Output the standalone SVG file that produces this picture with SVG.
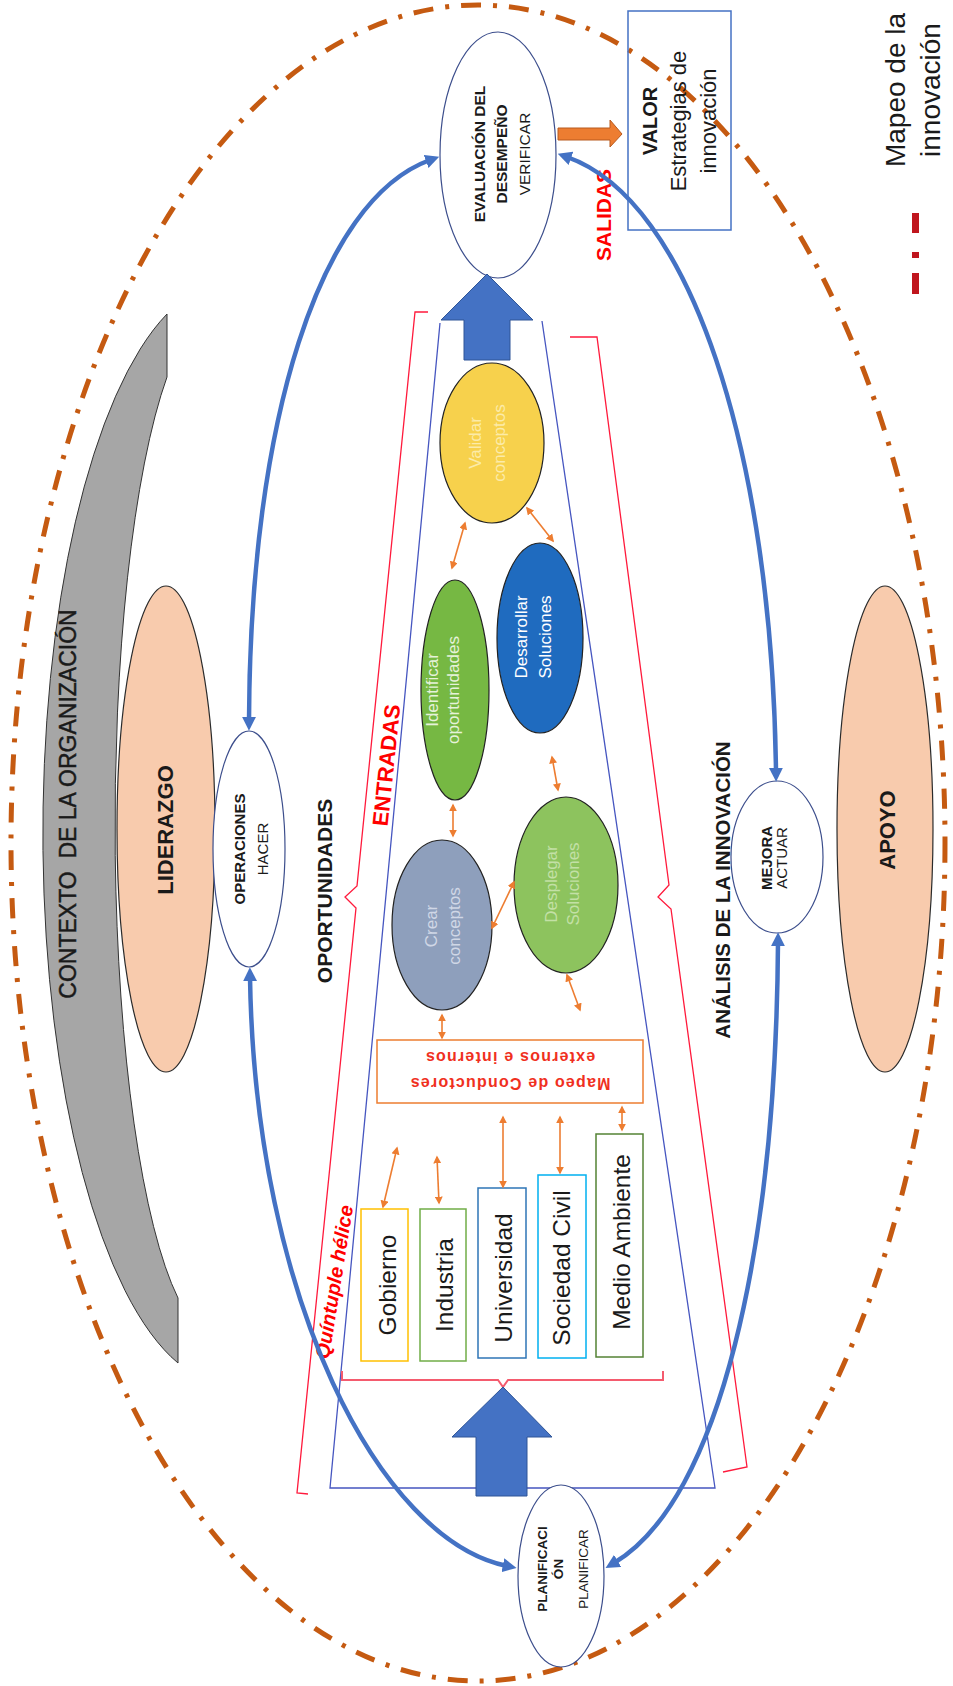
<svg xmlns="http://www.w3.org/2000/svg" width="953" height="1686" viewBox="0 0 953 1686">
<defs>
<style>
text{font-family:"Liberation Sans",Arial,sans-serif;fill:#1a1a1a}
.b{font-weight:bold}
.c{text-anchor:middle}
.node{fill:#fff;stroke:#3C4E8C;stroke-width:1.2}
.peach{fill:#F8CBAD;stroke:#2b2b2b;stroke-width:1.2}
.inner{stroke:#222;stroke-width:1.2}
.blue{fill:none;stroke:#4472C4;stroke-width:4.5;marker-start:url(#ab);marker-end:url(#ab)}
.or{fill:none;stroke:#ED7D31;stroke-width:1.6;marker-start:url(#ao);marker-end:url(#ao)}
.red{fill:none;stroke:#FF1A3C;stroke-width:1.3}
.box{fill:#fff;stroke-width:1.5}
.bt{font-size:24.5px}
.it{font-size:17px}
</style>
<marker id="ab" viewBox="0 0 10 10" refX="3" refY="5" markerWidth="14" markerHeight="14" markerUnits="userSpaceOnUse" orient="auto-start-reverse">
<path d="M0,0 L10,5 L0,10 z" fill="#4472C4"/>
</marker>
<marker id="ao" viewBox="0 0 10 10" refX="8" refY="5" markerWidth="8" markerHeight="8" markerUnits="userSpaceOnUse" orient="auto-start-reverse">
<path d="M0,0 L10,5 L0,10 z" fill="#ED7D31"/>
</marker>
</defs>
<rect width="953" height="1686" fill="#fff"/>

<g id="contexto">
<path d="M167,314 A185,550 0 0 0 178,1363 L178,1298 A100,510 0 0 1 167,377 Z" fill="#A6A6A6" stroke="#333" stroke-width="1"/>
<g transform="translate(76,804) rotate(-90)"><text class="c" y="0" font-size="23" stroke="#1a1a1a" stroke-width="0.45" xml:space="preserve">CONTEXTO  DE LA ORGANIZACIÓN</text></g>
</g>

<g id="liderazgo">
<ellipse class="peach" cx="166" cy="829" rx="49" ry="243"/>
<g transform="translate(166,830) rotate(-90)"><text class="c b" y="7" font-size="22">LIDERAZGO</text></g>
</g>

<g id="apoyo">
<ellipse class="peach" cx="885" cy="829" rx="48" ry="243"/>
<g transform="translate(885,830) rotate(-90)"><text class="c b" y="10" font-size="22">APOYO</text></g>
</g>

<g id="trapecio">
<polyline points="440,323 330,1488 715,1488 542,321" fill="none" stroke="#4656C0" stroke-width="1.3"/>
</g>

<g id="llaves">
<polyline class="red" points="428,312 415,312 357,886 345,897 356,908 297,1493 308,1494"/>
<polyline class="red" points="570,337 597,337 669,885 658,897 671,909 747,1467 723,1472"/>
<polyline points="342,1371 342,1380 498,1380 503,1387 508,1380 663,1380 663,1371" fill="none" stroke="#F45B6E" stroke-width="2"/>
</g>

<g id="outer">
<ellipse cx="478" cy="843" rx="467" ry="838" fill="none" stroke="#C55A11" stroke-width="5" stroke-dasharray="20 12 4 12"/>
</g>

<g id="labels">
<g transform="translate(332,891) rotate(-90)"><text class="c b" y="0" font-size="21">OPORTUNIDADES</text></g>
<g transform="translate(730,890) rotate(-90)"><text class="c b" y="0" font-size="20.5">ANÁLISIS DE LA INNOVACIÓN</text></g>
<g transform="translate(394,766) rotate(-84)"><text class="c b" y="0" font-size="22" style="fill:#FF0000">ENTRADAS</text></g>
<g transform="translate(341,1283) rotate(-81)"><text class="c b" y="0" font-size="20" font-style="italic" style="fill:#FF0000">Quíntuple hélice</text></g>
<g transform="translate(611,215) rotate(-90)"><text class="c b" y="0" font-size="21" style="fill:#FF0000">SALIDAS</text></g>
</g>

<g id="eval">
<ellipse class="node" cx="498" cy="155" rx="58" ry="123"/>
<g transform="translate(498,154) rotate(-90)">
<text class="c b" y="-13" font-size="15.5">EVALUACIÓN DEL</text>
<text class="c b" y="9" font-size="15.5">DESEMPEÑO</text>
<text class="c" y="32" font-size="15.5">VERIFICAR</text>
</g>
</g>

<g id="operaciones">
<ellipse class="node" cx="249" cy="849" rx="36" ry="118"/>
<g transform="translate(249,849) rotate(-90)">
<text class="c b" y="-4" font-size="15">OPERACIONES</text>
<text class="c" y="19" font-size="15">HACER</text>
</g>
</g>

<g id="mejora">
<ellipse class="node" cx="777" cy="857" rx="46" ry="76"/>
<g transform="translate(777,858) rotate(-90)">
<text class="c b" y="-5" font-size="15">MEJORA</text>
<text class="c" y="10" font-size="15">ACTUAR</text>
</g>
</g>

<g id="planificacion">
<ellipse class="node" cx="561" cy="1576" rx="43" ry="91"/>
<g transform="translate(561,1569) rotate(-90)">
<text class="c b" y="-14" font-size="13.5">PLANIFICACI</text>
<text class="c b" y="2" font-size="13.5">ÓN</text>
<text class="c" y="27" font-size="13.5">PLANIFICAR</text>
</g>
</g>

<g id="valor">
<rect x="628" y="11" width="103" height="219" fill="none" stroke="#4472C4" stroke-width="1.5"/>
<g transform="translate(682,121) rotate(-90)">
<text class="c b" y="-25" font-size="20">VALOR</text>
<text class="c" y="4" font-size="22">Estrategias de</text>
<text class="c" y="34" font-size="22">innovación</text>
</g>
</g>

<g id="validar">
<ellipse class="inner" cx="492" cy="443" rx="52" ry="80" fill="#F7D14C"/>
<g transform="translate(492,443) rotate(-90)">
<text class="c it" y="-11" style="fill:#FCEBA8">Validar</text>
<text class="c it" y="13" style="fill:#FCEBA8">conceptos</text>
</g>
</g>

<g id="identificar">
<ellipse class="inner" cx="455" cy="690" rx="34" ry="110" fill="#76B843"/>
<g transform="translate(455,690) rotate(-90)">
<text class="c it" y="-17" style="fill:#E6F2DA">Identificar</text>
<text class="c it" y="4" style="fill:#E6F2DA">oportunidades</text>
</g>
</g>

<g id="desarrollar">
<ellipse class="inner" cx="540" cy="638" rx="43" ry="95" fill="#1F6BBF"/>
<g transform="translate(540,637) rotate(-90)">
<text class="c it" y="-13" style="fill:#fff">Desarrollar</text>
<text class="c it" y="11" style="fill:#fff">Soluciones</text>
</g>
</g>

<g id="crear">
<ellipse class="inner" cx="442" cy="925" rx="50" ry="85" fill="#8E9FBC"/>
<g transform="translate(442,926) rotate(-90)">
<text class="c it" y="-5" style="fill:#D0D7E6">Crear</text>
<text class="c it" y="18" style="fill:#D0D7E6">conceptos</text>
</g>
</g>

<g id="desplegar">
<ellipse class="inner" cx="566" cy="885" rx="52" ry="88" fill="#8DC35E"/>
<g transform="translate(566,884) rotate(-90)">
<text class="c it" y="-9" style="fill:#C3E0A6">Desplegar</text>
<text class="c it" y="13" style="fill:#C3E0A6">Soluciones</text>
</g>
</g>

<g id="mapeo">
<rect class="box" x="377" y="1040" width="266" height="63" stroke="#ED7D31"/>
<g transform="rotate(180 510 1072)">
<text class="c b" x="510" y="1066" font-size="16" letter-spacing="1.2" style="fill:#F0301E">Mapeo de Conductores</text>
<text class="c b" x="510" y="1092" font-size="16" letter-spacing="1.2" style="fill:#F0301E">externos e internos</text>
</g>
</g>

<g id="gobierno">
<rect class="box" x="361" y="1209" width="47" height="152" stroke="#FFC000"/>
<g transform="translate(384.5,1285) rotate(-90)"><text class="c bt" y="11">Gobierno</text></g>
</g>
<g id="industria">
<rect class="box" x="420" y="1209" width="46" height="152" stroke="#70AD47"/>
<g transform="translate(443,1285) rotate(-90)"><text class="c bt" y="10">Industria</text></g>
</g>
<g id="universidad">
<rect class="box" x="478" y="1188" width="48" height="170" stroke="#2E75B6"/>
<g transform="translate(502,1278) rotate(-90)"><text class="c bt" y="10">Universidad</text></g>
</g>
<g id="sociedad">
<rect class="box" x="538" y="1175" width="48" height="183" stroke="#00B0F0"/>
<g transform="translate(562,1268) rotate(-90)"><text class="c bt" y="8">Sociedad Civil</text></g>
</g>
<g id="medio">
<rect class="box" x="596" y="1134" width="47" height="223" stroke="#548235"/>
<g transform="translate(619.5,1242) rotate(-90)"><text class="c bt" y="10">Medio Ambiente</text></g>
</g>

<g id="leyenda">
<g transform="translate(922,90) rotate(-90)">
<text class="c" y="-17" font-size="28">Mapeo de la</text>
<text class="c" y="18" font-size="28">innovación</text>
</g>
<rect x="912" y="213" width="7" height="20" fill="#C0161E"/>
<rect x="912" y="252" width="7" height="6" fill="#C0161E"/>
<rect x="912" y="273" width="7" height="21" fill="#C0161E"/>
</g>

<g id="connectors">
<polygon points="464,360 510,360 510,320 533,320 487,274 441,320 464,320" fill="#4472C4" stroke="#2F5597" stroke-width="1"/>
<polygon points="476,1496 527,1496 527,1437 552,1437 503,1387 452,1437 476,1437" fill="#4472C4" stroke="#2F5597" stroke-width="1"/>
<polygon points="558,128 610,128 610,120 622,134 610,147 610,140 558,140" fill="#ED7D31" stroke="#B85A1E" stroke-width="1"/>
<path class="blue" d="M249,721 C250,420 320,200 430,160"/>
<path class="blue" d="M250,977 C255,1300 380,1540 507,1566"/>
<path class="blue" d="M567,157 C690,200 772,450 776,772"/>
<path class="blue" d="M778,942 C776,1250 720,1500 614,1563"/>
<line class="or" x1="465" y1="523" x2="452" y2="568"/>
<line class="or" x1="527" y1="508" x2="553" y2="541"/>
<line class="or" x1="552" y1="757" x2="558" y2="790"/>
<line class="or" x1="453" y1="805" x2="453" y2="836"/>
<line class="or" x1="492" y1="928" x2="514" y2="882"/>
<line class="or" x1="567" y1="975" x2="580" y2="1010"/>
<line class="or" x1="442" y1="1015" x2="442" y2="1038"/>
<line class="or" x1="397" y1="1148" x2="383" y2="1207"/>
<line class="or" x1="437" y1="1157" x2="439" y2="1203"/>
<line class="or" x1="503" y1="1117" x2="503" y2="1187"/>
<line class="or" x1="560" y1="1117" x2="560" y2="1173"/>
<line class="or" x1="622" y1="1107" x2="622" y2="1130"/>
</g>
</svg>
